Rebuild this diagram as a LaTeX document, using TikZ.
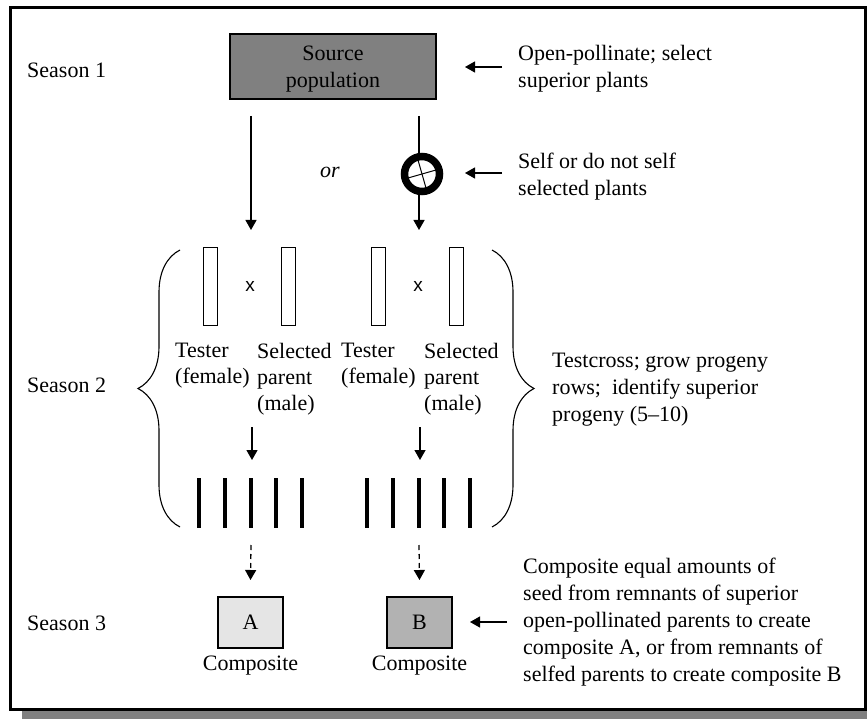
\documentclass[tikz,border=0pt]{standalone}
\usepackage{fontspec}
\setmainfont{Liberation Serif}
\setsansfont{Liberation Sans}
\usepackage{tikz}
\usetikzlibrary{arrows.meta,positioning,calc,decorations.pathreplacing}
\tikzstyle{srcbox} = [rectangle, draw, line width=1.2pt, fill=black!50, minimum width=206pt, minimum height=65pt, align=center, inner sep=0pt]
\tikzstyle{compbox} = [rectangle, draw, line width=1.2pt, minimum width=65pt, minimum height=51pt, inner sep=0pt]
\tikzstyle{rowbox} = [rectangle, draw, line width=1pt, minimum width=14pt, minimum height=77pt, inner sep=0pt]
\tikzstyle{note} = [align=left, inner sep=0pt, anchor=west]
\tikzstyle{parlabel} = [align=left, inner sep=0pt, anchor=north west, font=\fontsize{22}{26}\selectfont]
\tikzstyle{crossmark} = [font=\sffamily\fontsize{19}{20}\selectfont]
\tikzstyle{line} = [draw, line width=1.3pt, -{Triangle[width=11pt,length=10pt]}]
\tikzstyle{bar} = [draw, line width=4pt]
\tikzstyle{bracket} = [draw, line width=1.1pt, decorate, decoration={brace, amplitude=42pt}]

\begin{document}
\begin{tikzpicture}[x=1pt, y=-1pt, font=\fontsize{22}{27}\selectfont, node distance=7pt]
        \useasboundingbox (0,0) rectangle (867,719);
        % Frame
        \fill [black!50] (22,20) rectangle (867,719);
        \draw [line width=3pt, fill=white] (10,8) rectangle (865,709);

        % Seasons
        \node [note] (season1) at (27,70) {Season 1};
        \node [note] (season2) at (27,385) {Season 2};
        \node [note] (season3) at (27,623) {Season 3};

        % Season 1
        \node [srcbox, text depth=-3pt] (source) at (333,66.5) {Source\\population};
        \node [circle, draw, line width=7.5pt, minimum size=35pt, inner sep=0pt, fill=white] (selfing) at (422,174) {};
        \draw [line width=1pt] (selfing.center) +(-14,4) -- +(14,-4);
        \draw [line width=1pt] (selfing.center) +(-4,-14) -- +(4,14);
        \node [font=\itshape\fontsize{22}{27}\selectfont] (or) at (330,172) {or};
        \coordinate (openTop) at (251,116);
        \coordinate (openEnd) at (251,230);
        \coordinate (selfTop) at (419,116);
        \coordinate (selfEnd) at (419,230);
        \path [line] (openTop) -- (openEnd);
        \draw [line width=1.3pt] (selfTop) -- (selfTop |- selfing.north);
        \path [line] (selfEnd |- selfing.south) -- (selfEnd);

        \node [note] (opnote) at (518,69) {Open-pollinate; select\\superior plants};
        \node [note] (selfnote) at (518,177) {Self or do not self\\selected plants};
        \coordinate (opTail) at (502,67);
        \coordinate (opHead) at (465,67);
        \coordinate (selfTail) at (502,173);
        \coordinate (selfHead) at (465,173);
        \path [line] (opTail) -- (opHead);
        \path [line] (selfTail) -- (selfHead);

        % Season 2
        \coordinate (lbTop) at (180,250);
        \coordinate (lbBot) at (180,527);
        \coordinate (rbTop) at (492,250);
        \coordinate (rbBot) at (492,527);
        \path [bracket] (lbBot) -- (lbTop);
        \path [bracket] (rbTop) -- (rbBot);

        \node [rowbox] (tester1) at (210,286.5) {};
        \node [rowbox] (parent1) at (288,286.5) {};
        \node [rowbox] (tester2) at (378.5,286.5) {};
        \node [rowbox] (parent2) at (456.5,286.5) {};
        \node [crossmark] (cross1) at (250,286) {x};
        \node [crossmark] (cross2) at (418,286) {x};

        \node [parlabel] (tlab1) at (175,343) {Tester\\(female)};
        \node [parlabel] (plab1) at (257,343) {Selected\\parent\\(male)};
        \node [parlabel] (tlab2) at (341,343) {Tester\\(female)};
        \node [parlabel] (plab2) at (424,343) {Selected\\parent\\(male)};

        \coordinate (cross1Top) at (252,427);
        \coordinate (cross1End) at (252,460);
        \coordinate (cross2Top) at (420,427);
        \coordinate (cross2End) at (420,460);
        \path [line] (cross1Top) -- (cross1End);
        \path [line] (cross2Top) -- (cross2End);

        \foreach \i in {0,...,4} {
            \draw [bar] ({199+25.75*\i},478) -- ++(0,50);
            \draw [bar] ({367+25.75*\i},478) -- ++(0,50);
        }

        \node [note] (tcnote) at (552,390) {Testcross; grow progeny\\rows;\ \ identify superior\\progeny (5--10)};

        % Season 3
        \node [compbox, fill=black!10] (compA) at (250.5,622.5) {A};
        \node [compbox, fill=black!30] (compB) at (419.5,622.5) {B};
        \node [below=of compA, inner sep=0pt] (labA) {Composite};
        \node [below=of compB, inner sep=0pt] (labB) {Composite};
        \coordinate (rowsA) at (251,545);
        \coordinate (rowsB) at (419,545);
        \path [line, dash pattern=on 5pt off 4pt] (rowsA) -- (compA.north |- 0,580);
        \path [line, dash pattern=on 5pt off 4pt] (rowsB) -- (compB.north |- 0,580);

        \node [note] (compnote) at (523,622) {Composite equal amounts of\\seed from remnants of superior\\open-pollinated parents to create\\composite A, or from remnants of\\selfed parents to create composite B};
        \coordinate (compTail) at (507,622);
        \coordinate (compHead) at (470,622);
        \path [line] (compTail) -- (compHead);
\end{tikzpicture}
\end{document}
